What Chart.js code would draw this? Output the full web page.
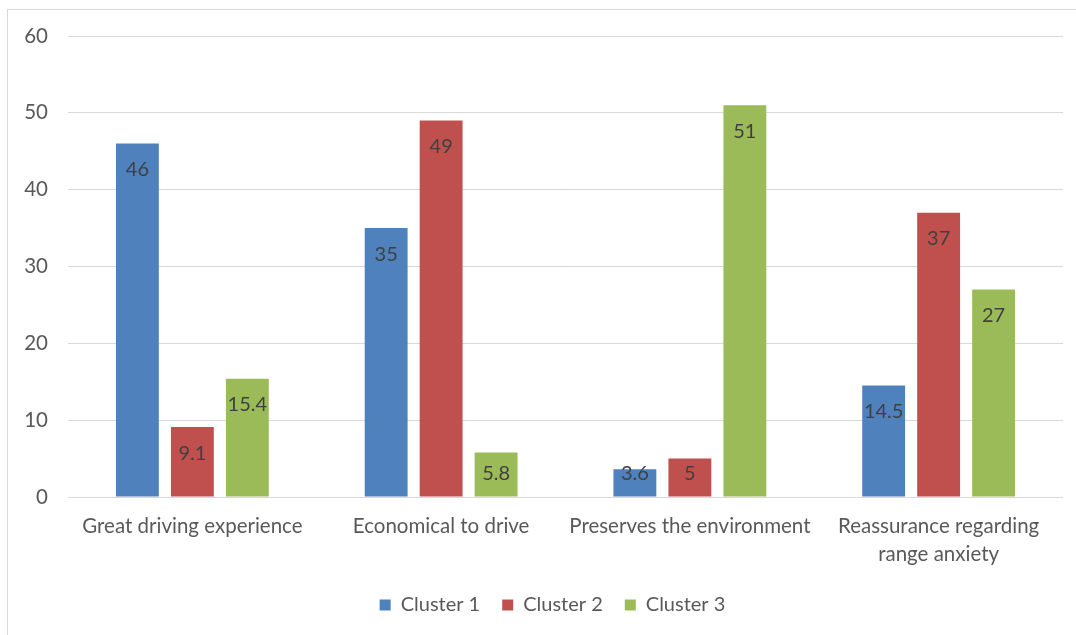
<!DOCTYPE html>
<html>
<head>
<meta charset="utf-8">
<script src="https://cdn.jsdelivr.net/npm/chart.js@4/dist/chart.umd.min.js"></script>
<style>
  html, body { margin: 0; padding: 0; background: #fff; overflow: hidden; }
  #frame { position: absolute; left: 7px; top: 9px; width: 1200px; height: 800px; border: 1px solid #d9d9d9; }
  #wrap { position: absolute; left: 0; top: 0; width: 1076px; height: 635px; }
</style>
</head>
<body>
<div id="frame"></div>
<div id="wrap"><canvas id="myChart" width="1076" height="635"></canvas></div>
<script>
var categories = ['Great driving experience', 'Economical to drive', 'Preserves the environment', ['Reassurance regarding', 'range anxiety']]
var cluster1 = [46, 35, 3.6, 14.5]
var cluster2 = [9.1, 49, 5, 37]
var cluster3 = [15.4, 5.8, 51, 27]
var seriesNames = ['Cluster 1', 'Cluster 2', 'Cluster 3']
var yTicks = [0, 10, 20, 30, 40, 50, 60]

var fontName = 'Lato, "Open Sans", sans-serif'

// labels drawn inside the top of each bar, like Excel's "inside end"
var barLabels = {
    id: 'barLabels',
    afterDatasetsDraw: function(chart) {
        var ctx = chart.ctx
        ctx.save()
        ctx.font = '20px ' + fontName
        ctx.fillStyle = '#404040'
        ctx.textAlign = 'center'
        ctx.textBaseline = 'middle'
        chart.data.datasets.forEach(function(ds, i) {
            var meta = chart.getDatasetMeta(i)
            meta.data.forEach(function(bar, j) {
                var y = Math.min(bar.y + 26, bar.base - 23)
                ctx.fillText(String(ds.data[j]), bar.x, y)
            })
        })
        ctx.restore()
    }
}

// legend sits centred under the plot area rather than the whole canvas
var legendShift = {
    id: 'legendShift',
    afterLayout: function(chart) {
        chart.legend.left += 17
        chart.legend.right += 17
    }
}

var ctx = document.getElementById('myChart').getContext('2d');
var myChart = new Chart(ctx, {
    type: 'bar',
    data: {
        labels: categories,
        datasets: [{
            label: seriesNames[0],
            data: cluster1,
            backgroundColor: '#4f81bd'
        }, {
            label: seriesNames[1],
            data: cluster2,
            backgroundColor: '#c0504d'
        }, {
            label: seriesNames[2],
            data: cluster3,
            backgroundColor: '#9bbb59'
        }]
    },
    options: {
        responsive: false,
        animation: false,
        categoryPercentage: 0.663,
        barPercentage: 0.78,
        layout: {
            padding: { left: 8, right: 13, top: 36, bottom: 10 }
        },
        plugins: {
            legend: {
                position: 'bottom',
                labels: {
                    boxWidth: 11,
                    boxHeight: 11,
                    padding: 22,
                    color: '#595959',
                    font: { family: fontName, size: 20 }
                }
            },
            tooltip: { enabled: false }
        },
        scales: {
            x: {
                grid: { display: false, drawTicks: false },
                border: { display: false },
                ticks: {
                    color: '#595959',
                    padding: 15,
                    maxRotation: 0,
                    font: { family: fontName, size: 20.5, lineHeight: 1.37 }
                },
                afterFit: function(scale) { scale.height = 76 }
            },
            y: {
                min: 0,
                max: 60,
                afterBuildTicks: function(scale) {
                    scale.ticks = yTicks.map(function(v) { return { value: v } })
                },
                grid: { color: '#d9d9d9', drawTicks: false },
                border: { display: false },
                ticks: {
                    color: '#595959',
                    padding: 20,
                    font: { family: fontName, size: 20.5 }
                },
                afterFit: function(scale) { scale.width = 60 }
            }
        }
    },
    plugins: [barLabels, legendShift]
});
</script>
</body>
</html>
